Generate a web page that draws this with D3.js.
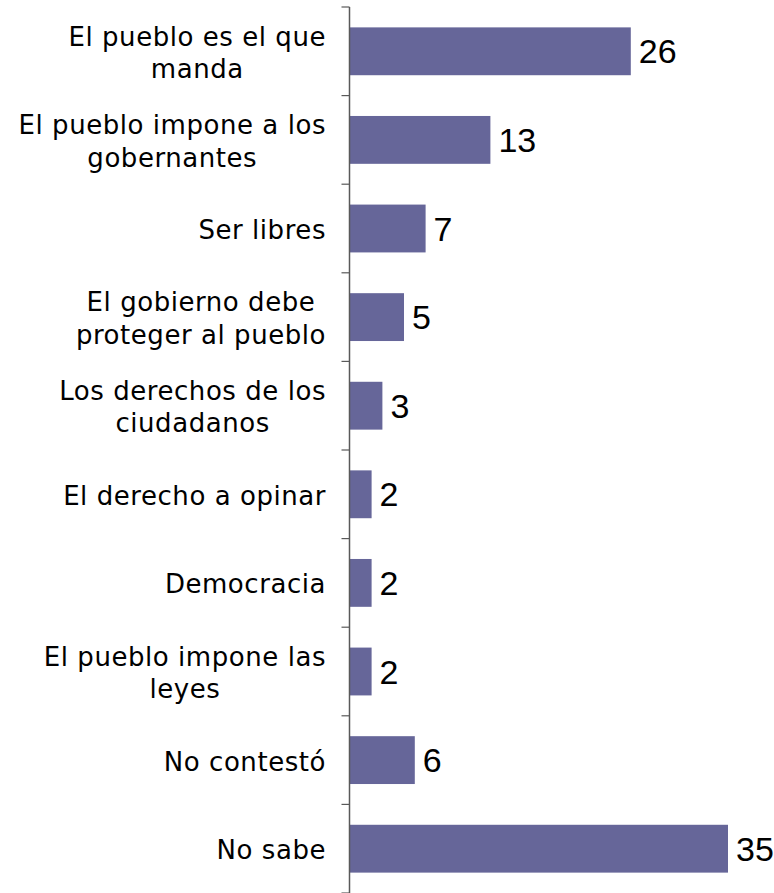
<!DOCTYPE html>
<html>
<head>
<meta charset="utf-8">
<script src="https://cdn.jsdelivr.net/npm/d3@7"></script>
<style>
  html, body { margin: 0; padding: 0; background: #ffffff; }
  svg { display: block; }
</style>
</head>
<body>
<svg id="chart" width="774" height="893"></svg>
<script>
const categories = [
  "El pueblo es el que\nmanda",
  "El pueblo impone a los\ngobernantes",
  "Ser libres",
  "El gobierno debe\nproteger al pueblo",
  "Los derechos de los\nciudadanos",
  "El derecho a opinar",
  "Democracia",
  "El pueblo impone las\nleyes",
  "No contestó",
  "No sabe"
];
const values = [26, 13, 7, 5, 3, 2, 2, 2, 6, 35];

const svg = d3.select("#chart");
const axisX = 349.5;

const y = d3.scaleBand()
  .domain(categories)
  .range([7, 893])
  .paddingInner(0.46)
  .paddingOuter(0.23);

const x = d3.scaleLinear()
  .domain([0, 35])
  .range([350, 728]);

const step = y.step();
const edgeOffset = step * 0.23;

// bars
svg.append("g").selectAll("rect")
  .data(categories)
  .join("rect")
  .attr("x", x(0))
  .attr("y", d => y(d))
  .attr("width", (d, i) => x(values[i]) - x(0))
  .attr("height", y.bandwidth())
  .attr("fill", "#666699");

// axis line + ticks at category boundaries
const boundaries = categories.map(c => y(c) - edgeOffset).concat([y(categories[categories.length - 1]) + y.bandwidth() + edgeOffset]);
const ax = svg.append("g");
ax.append("line")
  .attr("x1", axisX).attr("x2", axisX)
  .attr("y1", boundaries[0]).attr("y2", boundaries[boundaries.length - 1])
  .attr("stroke", "#595959").attr("stroke-width", 1.5);
ax.selectAll("line.tick")
  .data(boundaries)
  .join("line")
  .attr("class", "tick")
  .attr("x1", axisX - 8).attr("x2", axisX)
  .attr("y1", d => d).attr("y2", d => d)
  .attr("stroke", "#595959").attr("stroke-width", 1.2);

// category labels: block right-aligned, lines centred within block
const lineGap = 32.5;
const rightEdge = 326;
const labels = svg.append("g")
  .attr("font-family", "'DejaVu Sans', sans-serif")
  .attr("font-size", 26)
  .attr("letter-spacing", 0.55)
  .attr("fill", "#000000")
  .attr("text-anchor", "middle");
categories.forEach(c => {
  const lines = c.split("\n");
  const cy = y(c) + y.bandwidth() / 2;
  const first = cy + 10.5 - (lines.length - 1) * lineGap / 2;
  const t = labels.append("text");
  const spans = lines.map((ln, k) => t.append("tspan")
      .attr("y", first + k * lineGap)
      .text(ln));
  const widths = spans.map(s => s.node().getComputedTextLength());
  const maxW = d3.max(widths);
  const cx = rightEdge - maxW / 2;
  spans.forEach(s => s.attr("x", cx));
});

// value labels
svg.append("g").selectAll("text")
  .data(categories)
  .join("text")
  .attr("x", (d, i) => x(values[i]) + 8)
  .attr("y", d => y(d) + y.bandwidth() / 2 + 12)
  .attr("font-family", "'Liberation Sans', Arial, sans-serif")
  .attr("font-size", 34)
  .attr("fill", "#000000")
  .text((d, i) => values[i]);
</script>
</body>
</html>
